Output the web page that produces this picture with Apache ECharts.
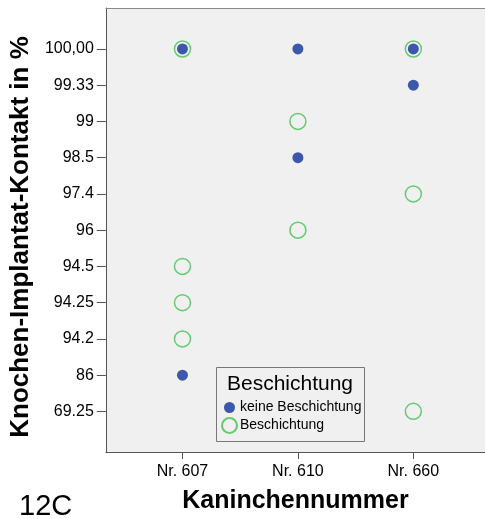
<!DOCTYPE html>
<html>
<head>
<meta charset="utf-8">
<script src="https://cdn.jsdelivr.net/npm/echarts@6/dist/echarts.min.js"></script>
<style>
html,body{margin:0;padding:0;background:#fff;}
#chart{width:485px;height:519px;}
</style>
</head>
<body>
<div id="chart"></div>
<script>
// Categories
const xCats = ['Nr. 607', 'Nr. 610', 'Nr. 660'];
const yLabels = ['69.25', '86', '94.2', '94.25', '94.5', '96', '97.4', '98.5', '99', '99.33', '100,00'];

// Series: keine Beschichtung
const keineX = ['Nr. 607', 'Nr. 610', 'Nr. 660', 'Nr. 660', 'Nr. 610', 'Nr. 607'];
const keineY = ['100,00', '100,00', '100,00', '99.33', '98.5', '86'];

// Series: Beschichtung
const beschX = ['Nr. 607', 'Nr. 607', 'Nr. 607', 'Nr. 607', 'Nr. 610', 'Nr. 610', 'Nr. 660', 'Nr. 660', 'Nr. 660'];
const beschY = ['100,00', '94.5', '94.25', '94.2', '99', '96', '100,00', '97.4', '69.25'];

const toPts = (xs, ys) => xs.map((x, i) => [xCats.indexOf(x), yLabels.indexOf(ys[i])]);

const FONT = 'Liberation Sans, Arial, sans-serif';
const chart = echarts.init(document.getElementById('chart'), null, {renderer: 'canvas'});

const xMin = -0.6638;
const xMax = xMin + 381 / 116;

chart.setOption({
  animation: false,
  backgroundColor: '#ffffff',
  title: {
    text: '12C', left: 14, top: 487,
    textStyle: {fontFamily: FONT, fontSize: 29, fontWeight: 'normal', color: '#000'}
  },
  grid: {
    left: 104, top: 8, right: 0, bottom: 63,
    show: true, backgroundColor: '#f0f0f0', borderWidth: 0
  },
  xAxis: [{
    type: 'value',
    min: xMin, max: xMax,
    name: 'Kaninchennummer',
    nameLocation: 'middle', nameGap: 37,
    nameTextStyle: {fontFamily: FONT, fontSize: 25, fontWeight: 'bold', color: '#000'},
    axisLine: {show: true, onZero: false, lineStyle: {color: '#555', width: 1}},
    axisTick: {show: true, length: 7, lineStyle: {color: '#555'}, customValues: [0, 1, 2]},
    axisLabel: {
      margin: 12, fontFamily: FONT, fontSize: 16, color: '#000',
      customValues: [0, 1, 2],
      formatter: v => xCats[Math.round(v)] || ''
    },
    splitLine: {show: false}
  }, {
    type: 'value', position: 'top',
    min: xMin, max: xMax,
    axisLine: {show: true, onZero: false, lineStyle: {color: '#8a8a8a', width: 1}},
    axisTick: {show: false},
    axisLabel: {show: false},
    splitLine: {show: false}
  }],
  yAxis: {
    type: 'value',
    min: -1.121, max: 11.13,
    name: 'Knochen-Implantat-Kontakt in %',
    nameLocation: 'middle', nameGap: 66,
    nameTextStyle: {fontFamily: FONT, fontSize: 26, fontWeight: 'bold', color: '#000', padding: [0, 14, 0, 0]},
    axisLine: {show: true, onZero: false, lineStyle: {color: '#555', width: 1}},
    axisTick: {show: true, length: 9, lineStyle: {color: '#555'}, customValues: yLabels.map((_, i) => i)},
    axisLabel: {
      margin: 12, fontFamily: FONT, fontSize: 16, color: '#000',
      customValues: yLabels.map((_, i) => i),
      formatter: v => yLabels[Math.round(v)] || ''
    },
    splitLine: {show: false}
  },
  legend: {
    orient: 'vertical', left: 221, top: 400, padding: 0, itemGap: 2,
    itemWidth: 15, itemHeight: 15,
    textStyle: {fontFamily: FONT, fontSize: 14, color: '#000', padding: [0, 0, 0, -2]},
    data: [
      {name: 'keine Beschichtung', icon: 'path://M0 0M15 15M13 7.5A5.5 5.5 0 1 1 2 7.5A5.5 5.5 0 1 1 13 7.5Z'},
      {name: 'Beschichtung', icon: 'circle'}
    ],
    z: 10
  },
  graphic: [
    {
      type: 'rect', z: 5,
      shape: {x: 216.5, y: 367.5, width: 148, height: 74},
      style: {fill: '#f0f0f0', stroke: '#777', lineWidth: 1}
    },
    {
      type: 'text', z: 6,
      x: 290, y: 384,
      style: {text: 'Beschichtung', font: '21px ' + FONT, fill: '#000', align: 'center', verticalAlign: 'middle'}
    }
  ],
  series: [
    {
      name: 'keine Beschichtung', type: 'scatter', z: 4,
      symbol: 'circle', symbolSize: 11,
      itemStyle: {color: '#3d57aa', opacity: 1},
      data: toPts(keineX, keineY)
    },
    {
      name: 'Beschichtung', type: 'scatter', z: 3,
      symbol: 'circle', symbolSize: 16,
      itemStyle: {color: 'rgba(0,0,0,0)', borderColor: '#62cc6e', borderWidth: 1.5, opacity: 1},
      data: toPts(beschX, beschY)
    }
  ]
});
</script>
</body>
</html>
